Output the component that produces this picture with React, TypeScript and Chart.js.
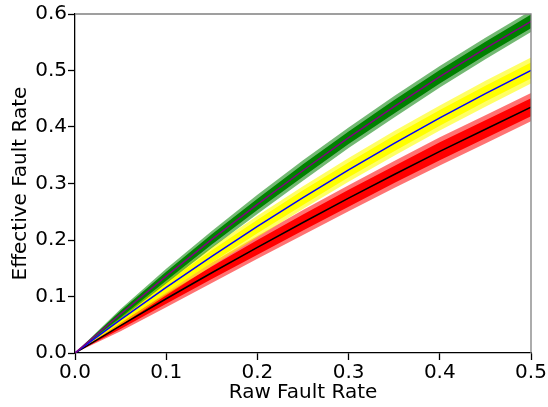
import React, { useEffect, useRef } from "react";
import { Chart, registerables } from "chart.js";

Chart.register(...registerables);

// Raw fault rate sample positions (x)
const rawRate = [0, 0.05, 0.1, 0.15, 0.2, 0.25, 0.3, 0.35, 0.4, 0.45, 0.5];

// Fitted curves
const greenFit = [0, 0.069, 0.136, 0.201, 0.263, 0.323, 0.381, 0.436, 0.489, 0.539, 0.587];
const yellowFit = [0, 0.059, 0.116, 0.171, 0.224, 0.275, 0.324, 0.371, 0.416, 0.459, 0.5];
const redFit = [0, 0.0485, 0.096, 0.142, 0.187, 0.231, 0.274, 0.316, 0.357, 0.396, 0.435];

// Half-widths of the scattered samples around each curve (dense core / sparse edge)
const greenCore = [0, 0.006, 0.008, 0.009, 0.01, 0.011, 0.011, 0.012, 0.012, 0.012, 0.012];
const greenEdge = [0, 0.009, 0.013, 0.015, 0.017, 0.018, 0.018, 0.019, 0.019, 0.019, 0.019];
const yellowCore = [0, 0.006, 0.009, 0.011, 0.012, 0.013, 0.013, 0.014, 0.014, 0.014, 0.014];
const yellowEdge = [0, 0.01, 0.014, 0.017, 0.019, 0.02, 0.021, 0.022, 0.022, 0.023, 0.023];
const redCore = [0, 0.006, 0.009, 0.011, 0.013, 0.014, 0.015, 0.015, 0.016, 0.016, 0.016];
const redEdge = [0, 0.01, 0.015, 0.018, 0.02, 0.022, 0.023, 0.024, 0.025, 0.025, 0.025];

const xTicks = [0, 0.1, 0.2, 0.3, 0.4, 0.5];
const yTicks = [0, 0.1, 0.2, 0.3, 0.4, 0.5, 0.6];

const pts = (ys: number[]) => rawRate.map((x, i) => ({ x, y: ys[i] }));
const shifted = (c: number[], w: number[], s: number) =>
  rawRate.map((x, i) => ({ x, y: c[i] + s * w[i] }));

function bandSets(center: number[], core: number[], edge: number[], solid: string, soft: string, baseIndex: number, order: number) {
  const common = { pointRadius: 0, borderWidth: 0, tension: 0 };
  return [
    { ...common, data: shifted(center, edge, -1), fill: false, order: order + 1 },
    { ...common, data: shifted(center, edge, 1), fill: { target: baseIndex }, backgroundColor: soft, order: order + 1 },
    { ...common, data: shifted(center, core, -1), fill: false, order },
    { ...common, data: shifted(center, core, 1), fill: { target: baseIndex + 2 }, backgroundColor: solid, order },
  ];
}

const FONT = "'DejaVu Sans', sans-serif";

export default function App() {
  const ref = useRef<HTMLCanvasElement | null>(null);
  useEffect(() => {
    if (!ref.current) return;
    const datasets: any[] = [
      ...bandSets(redFit, redCore, redEdge, "#ff0000", "rgba(255,0,0,0.55)", 0, 30),
      ...bandSets(yellowFit, yellowCore, yellowEdge, "#ffff00", "rgba(255,255,0,0.6)", 4, 20),
      ...bandSets(greenFit, greenCore, greenEdge, "#008000", "rgba(0,128,0,0.55)", 8, 10),
      { data: pts(greenFit), borderColor: "#800080", borderWidth: 1.5, pointRadius: 0, fill: false, order: 1 },
      { data: pts(yellowFit), borderColor: "#0000ff", borderWidth: 1.5, pointRadius: 0, fill: false, order: 1 },
      { data: pts(redFit), borderColor: "#000000", borderWidth: 1.5, pointRadius: 0, fill: false, order: 1 },
    ];
    const frame = {
      id: "frame",
      afterDraw(chart: any) {
        const { ctx, chartArea: a } = chart;
        ctx.save();
        ctx.strokeStyle = "#808080";
        ctx.lineWidth = 1.3;
        ctx.beginPath();
        ctx.moveTo(a.left, a.top);
        ctx.lineTo(a.right, a.top);
        ctx.lineTo(a.right, a.bottom);
        ctx.stroke();
        ctx.restore();
      },
    };
    const chart = new Chart(ref.current, {
      type: "line",
      data: { datasets },
      options: {
        animation: false,
        responsive: false,
        maintainAspectRatio: false,
        layout: { padding: { top: 14, right: 17, left: 0, bottom: 0 } },
        plugins: { legend: { display: false }, tooltip: { enabled: false } },
        scales: {
          x: {
            type: "linear",
            min: 0,
            max: 0.5,
            afterFit: (s: any) => { s.height = 54; },
            afterBuildTicks: (s: any) => { s.ticks = xTicks.map((v) => ({ value: v })); },
            ticks: { color: "#000", font: { family: FONT, size: 20 }, padding: 1, maxRotation: 0, callback: (v: any) => Number(v).toFixed(1) },
            grid: { drawOnChartArea: false, drawTicks: true, tickLength: 7, tickColor: "#000", tickWidth: 1.3 },
            border: { display: true, color: "#000", width: 1.3 },
            title: { display: true, text: "Raw Fault Rate", color: "#000", font: { family: FONT, size: 20 }, padding: { top: 0, bottom: 2 } },
          },
          y: {
            type: "linear",
            min: 0,
            max: 0.6,
            afterFit: (s: any) => { s.width = 75; },
            afterBuildTicks: (s: any) => { s.ticks = yTicks.map((v) => ({ value: v })); },
            ticks: { color: "#000", font: { family: FONT, size: 20 }, padding: 1, callback: (v: any) => Number(v).toFixed(1) },
            grid: { drawOnChartArea: false, drawTicks: true, tickLength: 7, tickColor: "#000", tickWidth: 1.3 },
            border: { display: true, color: "#000", width: 1.3 },
            title: { display: true, text: "Effective Fault Rate", color: "#000", font: { family: FONT, size: 20 }, padding: { top: 9, bottom: 0 } },
          },
        },
      },
      plugins: [frame],
    } as any);
    return () => chart.destroy();
  }, []);
  return (
    <div style={{ position: "fixed", left: 0, top: 0, width: 548, height: 407, background: "#fff" }}>
      <canvas ref={ref} width={548} height={407} />
    </div>
  );
}
